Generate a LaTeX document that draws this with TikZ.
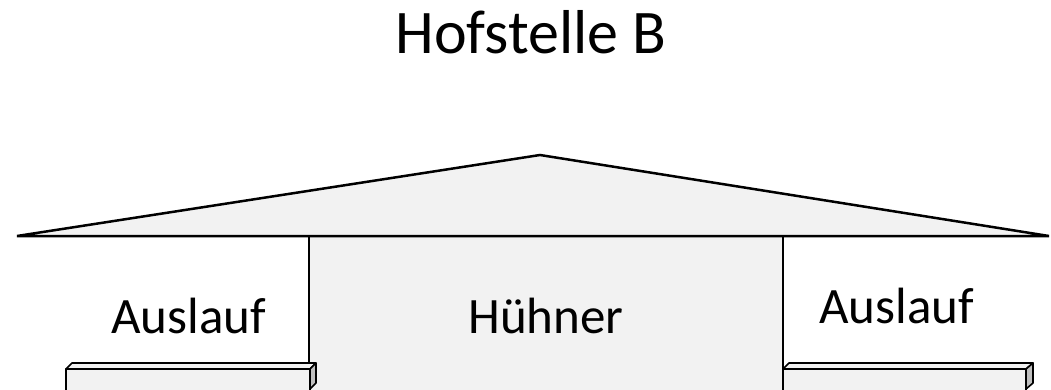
\documentclass[tikz,border=0pt]{standalone}
\usepackage{fontspec}
\setmainfont{Carlito}
\definecolor{lightfill}{HTML}{F2F2F2}
\definecolor{sidefill}{HTML}{BFBFBF}
\begin{document}
\begin{tikzpicture}[x=1pt,y=-1pt,
  roofstyle/.style={draw=black,fill=lightfill,line width=2.5pt,line join=miter},
  housestyle/.style={draw=black,fill=lightfill,line width=1.3pt},
  barstyle/.style={draw=black,fill=lightfill,line width=1.6pt,line join=round},
  sidestyle/.style={draw=black,fill=sidefill,line width=1.6pt,line join=round},
  lbl/.style={inner sep=0pt,anchor=base west,font=\fontsize{51}{60}\selectfont},
  titlestyle/.style={inner sep=0pt,anchor=base,font=\fontsize{62}{72}\selectfont}]
\useasboundingbox (0,0) rectangle (1051,389);
% house body
\draw[housestyle] (309,392) -- (309,236) -- (783,236) -- (783,392);
% roof
\draw[roofstyle] (17,236) -- (540,155) -- (1049,236) -- cycle;
% left bar
\draw[barstyle] (66,392) -- (66,369) -- (310,369) -- (310,392);
\draw[barstyle] (66,369) -- (72,363) -- (316,363) -- (310,369) -- cycle;
\draw[sidestyle] (310,369) -- (316,363) -- (316,383) -- (310,389) -- cycle;
% right bar
\draw[barstyle] (783,392) -- (783,369) -- (1026,369) -- (1026,392);
\draw[barstyle] (783,369) -- (789,363) -- (1033,363) -- (1026,369) -- cycle;
\draw[sidestyle] (1026,369) -- (1033,363) -- (1033,383) -- (1026,389) -- cycle;
% texts
\node[titlestyle] (title) at (531,53) {Hofstelle B};
\node[lbl] (ausl) at (111,333) {Auslauf};
\node[lbl,anchor=base] (huhn) at (546,333) {Hühner};
\node[lbl] (ausr) at (819,323) {Auslauf};
\end{tikzpicture}
\end{document}
